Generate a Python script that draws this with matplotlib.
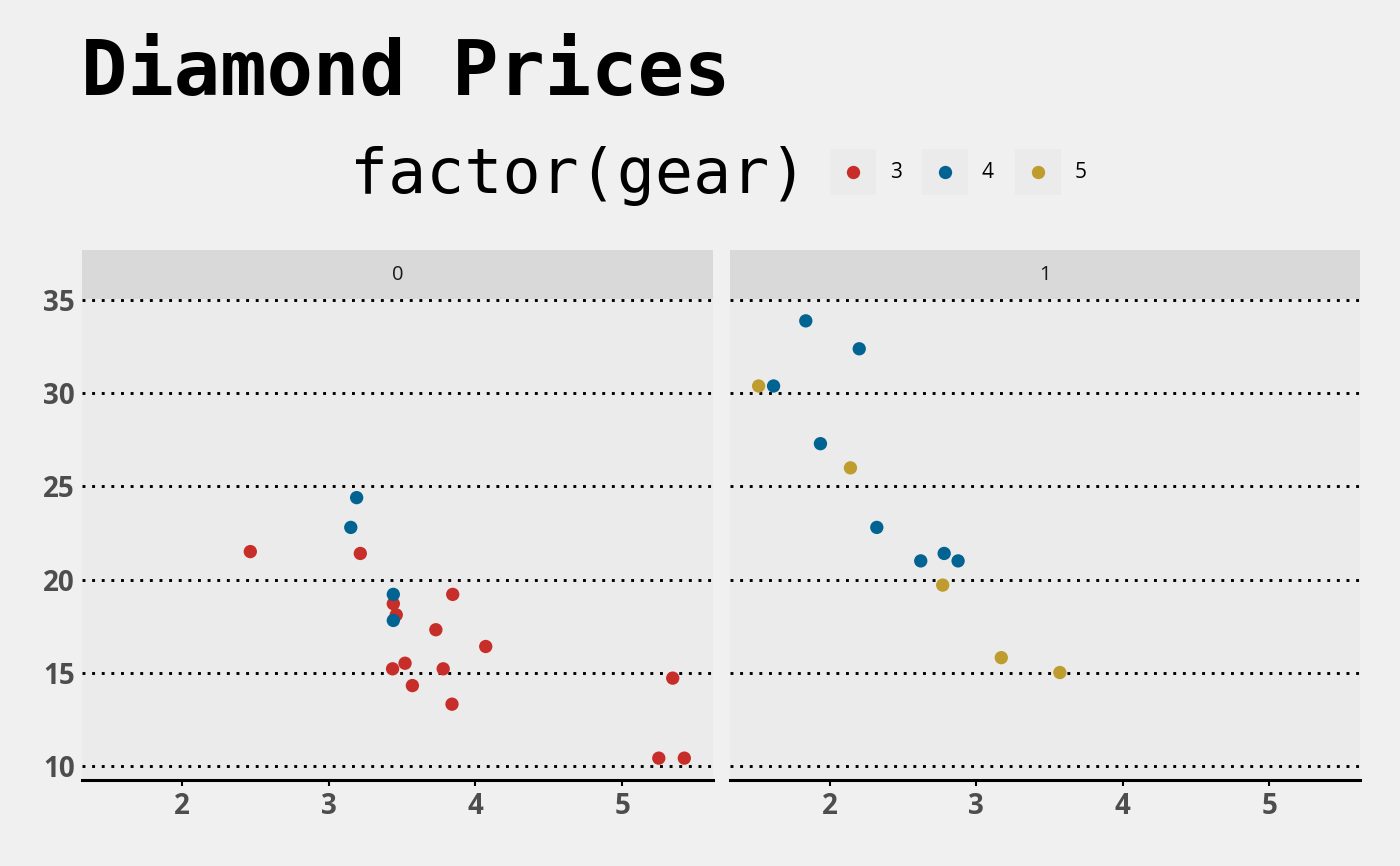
import matplotlib.pyplot as plt
from matplotlib.patches import Rectangle

# mtcars: weight, mpg, transmission (am), gear
wt = [2.620, 2.875, 2.320, 3.215, 3.440, 3.460, 3.570, 3.190, 3.150, 3.440, 3.440,
      4.070, 3.730, 3.780, 5.250, 5.424, 5.345, 2.200, 1.615, 1.835, 2.465, 3.520,
      3.435, 3.840, 3.845, 1.935, 2.140, 1.513, 3.170, 2.770, 3.570, 2.780]
mpg = [21.0, 21.0, 22.8, 21.4, 18.7, 18.1, 14.3, 24.4, 22.8, 19.2, 17.8,
       16.4, 17.3, 15.2, 10.4, 10.4, 14.7, 32.4, 30.4, 33.9, 21.5, 15.5,
       15.2, 13.3, 19.2, 27.3, 26.0, 30.4, 15.8, 19.7, 15.0, 21.4]
am = [1, 1, 1, 0, 0, 0, 0, 0, 0, 0, 0, 0, 0, 0, 0, 0, 0, 1, 1, 1, 0, 0,
      0, 0, 0, 1, 1, 1, 1, 1, 1, 1]
gear = [4, 4, 4, 3, 3, 3, 3, 4, 4, 4, 4, 3, 3, 3, 3, 3, 3, 4, 4, 4, 3, 3,
        3, 3, 3, 4, 5, 5, 5, 5, 5, 4]

gear_levels = [3, 4, 5]
gear_colors = {3: '#c72e29', 4: '#016392', 5: '#be9c2e'}
facets = [0, 1]
y_ticks = [10, 15, 20, 25, 30, 35]
x_ticks = [2, 3, 4, 5]

W, H = 1400, 866
BG = '#F0F0F0'
PANEL = '#EBEBEB'
STRIP = '#D9D9D9'
TICK_GREY = '#4D4D4D'


def rect(l, t, r, b):
    return [l / W, 1 - b / H, (r - l) / W, (b - t) / H]


fig = plt.figure(figsize=(W / 100, H / 100), dpi=100, facecolor=BG)

xr = max(wt) - min(wt)
yr = max(mpg) - min(mpg)
xlim = (min(wt) - 0.05 * xr, max(wt) + 0.05 * xr)
ylim = (min(mpg) - 0.05 * yr, max(mpg) + 0.05 * yr)

panels = [(82, 713), (730, 1360)]
for f, (l, r) in zip(facets, panels):
    ax = fig.add_axes(rect(l, 299, r, 780))
    ax.set_facecolor(PANEL)
    for yt in y_ticks:
        ax.axhline(yt, color='black', lw=2.1, linestyle=(0, (1, 2.3)), zorder=1)
    idx = [i for i in range(len(wt)) if am[i] == f]
    ax.scatter([wt[i] for i in idx], [mpg[i] for i in idx],
               c=[gear_colors[gear[i]] for i in idx], s=92, linewidths=0, zorder=3)
    ax.set_xlim(xlim)
    ax.set_ylim(ylim)
    ax.set_xticks(x_ticks)
    ax.set_yticks(y_ticks)
    for s in ['top', 'right', 'left']:
        ax.spines[s].set_visible(False)
    ax.spines['bottom'].set_linewidth(2.2)
    ax.spines['bottom'].set_color('black')
    ax.tick_params(axis='x', length=4, width=1.5, color='black', pad=5,
                   labelsize=20, labelcolor=TICK_GREY)
    ax.tick_params(axis='y', length=0, pad=5, labelsize=20, labelcolor=TICK_GREY)
    if f != facets[0]:
        ax.set_yticklabels([])
    for lab in ax.get_xticklabels() + ax.get_yticklabels():
        lab.set_fontfamily('Open Sans')
        lab.set_fontweight('bold')

    sx = fig.add_axes(rect(l, 250, r, 299))
    sx.set_facecolor(STRIP)
    sx.set_xticks([])
    sx.set_yticks([])
    for s in sx.spines.values():
        s.set_visible(False)
    sx.text(0.5, 0.5, str(f), ha='center', va='center', fontsize=14.5,
            family='Open Sans', color='#1A1A1A')

# title and legend drawn on an overlay in pixel coordinates
ov = fig.add_axes([0, 0, 1, 1], facecolor='none')
ov.set_xlim(0, W)
ov.set_ylim(H, 0)
ov.axis('off')
ov.text(81, 95, 'Diamond Prices', family='DejaVu Sans Mono', fontweight='bold',
        fontsize=55.5, va='baseline', ha='left')
ov.text(808, 193, 'factor(gear)', family='DejaVu Sans Mono', fontsize=45.5,
        va='baseline', ha='right')
key_x = [830, 922, 1015]
for g, kx in zip(gear_levels, key_x):
    ov.add_patch(Rectangle((kx, 149), 46, 46, facecolor=PANEL, edgecolor='none'))
    ov.scatter([kx + 23], [172], s=92, c=gear_colors[g], linewidths=0)
    ov.text(kx + 60, 172, str(g), family='Open Sans', fontsize=15,
            va='center', ha='left')

fig.savefig('out.png', dpi=100, facecolor=BG)
